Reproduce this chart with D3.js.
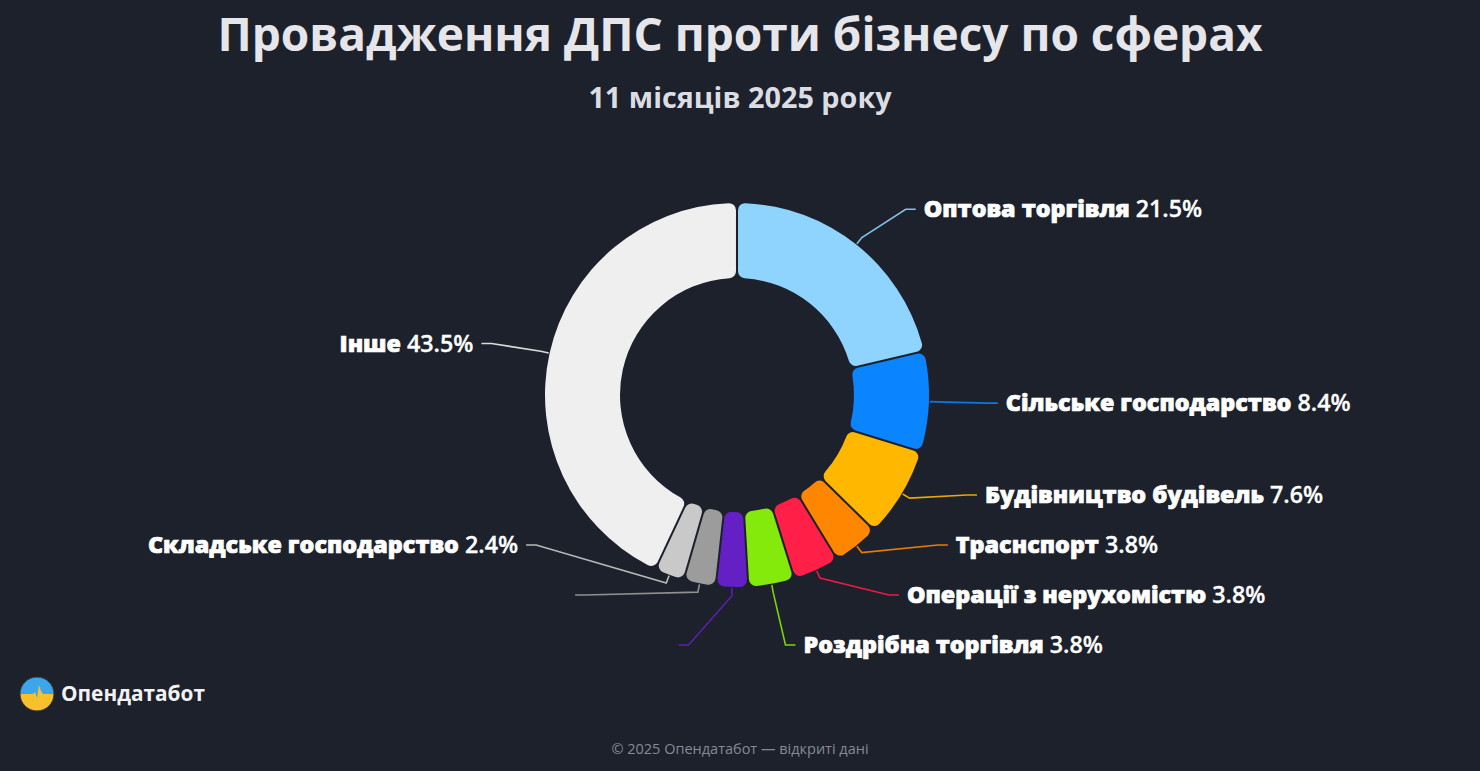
<!DOCTYPE html>
<html>
<head>
<meta charset="UTF-8" />
<script src="https://d3js.org/d3.v7.min.js"></script>
<title>Провадження ДПС проти бізнесу по сферах</title>
<style>
  html, body { margin: 0; padding: 0; background: #1d212b; }
  svg { display: block; font-family: "Open Sans", "Noto Sans", sans-serif; }
</style>
</head>
<body>
<svg id="chart"></svg>
<script>
// дані (частка проваджень, %)
const categories = [
  "Оптова торгівля",
  "Сільське господарство",
  "Будівництво будівель",
  "Траснспорт",
  "Операції з нерухомістю",
  "Роздрібна торгівля",
  "Виробництво харчових продуктів",
  "Ремонт автотранспорту",
  "Складське господарство",
  "Інше"
];
const shares = [21.5, 8.4, 7.6, 3.8, 3.8, 3.8, 2.6, 2.6, 2.4, 43.5];
const palette = ["#8fd4ff", "#0a84ff", "#ffb700", "#ff8600", "#ff1f47", "#84ea0c",
                 "#6420c4", "#9c9c9c", "#c9c9c9", "#efefef"];
const hiddenLabels = ["Виробництво харчових продуктів", "Ремонт автотранспорту"];

const W = 1480, H = 771;
const cx = 737, cy = 395;
const rOuter = 192, rInner = 117;

const svg = d3.select("#chart").attr("width", W).attr("height", H);
svg.append("rect").attr("width", W).attr("height", H).attr("fill", "#1d212b");

svg.append("text")
  .attr("x", W / 2).attr("y", 51)
  .attr("text-anchor", "middle")
  .attr("fill", "#e6e6ea")
  .attr("font-size", 46).attr("font-weight", 700)
  .text("Провадження ДПС проти бізнесу по сферах");

svg.append("text")
  .attr("x", W / 2).attr("y", 108)
  .attr("text-anchor", "middle")
  .attr("fill", "#dcdde2")
  .attr("font-size", 28.8).attr("font-weight", 700)
  .text("11 місяців 2025 року");

const data = categories.map((name, i) => ({ name, value: shares[i], color: palette[i] }));

const pie = d3.pie().sort(null).value(d => d.value).padAngle(0.009);
const arcs = pie(data);
const arc = d3.arc().innerRadius(rInner).outerRadius(rOuter).cornerRadius(7);

const g = svg.append("g").attr("transform", `translate(${cx},${cy})`);
g.selectAll("path.slice")
  .data(arcs)
  .join("path")
  .attr("class", "slice")
  .attr("d", arc)
  .attr("fill", d => d.data.color);

// розміщення підписів
const rLine = rOuter + 45;
const ax = 269, by = 258;   // еліпс, на якому стоять підписи
const gap = 50, yMax = 645 - cy, yMin = 190 - cy;

const labels = arcs.map(d => {
  const a = (d.startAngle + d.endAngle) / 2;
  return { d, a, side: Math.sin(a) >= 0 ? 1 : -1, y: -Math.cos(a) * rLine };
});

function spread(list) {
  list.sort((p, q) => p.y - q.y);
  // групи, що перетинаються, розсуваємо навколо середнього
  let groups = list.map(l => ({ items: [l], y0: l.y }));
  let merged = true;
  while (merged) {
    merged = false;
    for (let i = 0; i < groups.length - 1; i++) {
      const a = groups[i], b = groups[i + 1];
      const aEnd = a.y0 + (a.items.length - 1) * gap;
      if (b.y0 - aEnd < gap) {
        const items = a.items.concat(b.items);
        const mean = d3.mean(items, l => l.y);
        let y0 = mean - (items.length - 1) * gap / 2;
        y0 = Math.min(y0, yMax - (items.length - 1) * gap);
        y0 = Math.max(y0, yMin);
        groups.splice(i, 2, { items, y0 });
        merged = true;
        break;
      }
    }
  }
  groups.forEach(gr => {
    let y0 = Math.min(gr.y0, yMax - (gr.items.length - 1) * gap);
    gr.items.forEach((l, k) => { l.ly = y0 + k * gap; });
  });
}
spread(labels.filter(l => l.side > 0));
spread(labels.filter(l => l.side < 0));

labels.forEach(l => {
  const t = Math.min(1, (l.ly / by) ** 2);
  l.lx = l.side * ax * Math.sqrt(1 - t);
});

const lineG = g.append("g");
labels.forEach(l => {
  const s = Math.sin(l.a), c = -Math.cos(l.a);
  const pts = [
    [s * (rOuter + 1), c * (rOuter + 1)],
    [s * (rOuter + 9), c * (rOuter + 9)],
    [l.lx - l.side * 18, l.ly],
    [l.lx - l.side * 8, l.ly]
  ];
  lineG.append("path")
    .attr("d", d3.line()(pts))
    .attr("fill", "none")
    .attr("stroke", d3.color(l.d.data.color).darker(0.25))
    .attr("stroke-width", 1.6);
});

const textG = g.append("g");
labels.filter(l => !hiddenLabels.includes(l.d.data.name)).forEach(l => {
  const t = textG.append("text")
    .attr("x", l.lx).attr("y", l.ly)
    .attr("dy", "0.35em")
    .attr("text-anchor", l.side > 0 ? "start" : "end")
    .attr("fill", "#ffffff")
    .attr("font-size", 23.3);
  t.append("tspan").attr("font-weight", 800)
    .attr("stroke", "#ffffff").attr("stroke-width", 0.7)
    .text(l.d.data.name + " ");
  t.append("tspan").attr("font-weight", 600)
    .attr("stroke", "#ffffff").attr("stroke-width", 0.3)
    .text(l.d.data.value.toFixed(1) + "%");
});

// логотип
const logo = svg.append("g").attr("transform", "translate(37,694)");
const clip = svg.append("defs").append("clipPath").attr("id", "logoClip");
clip.append("circle").attr("r", 17);
const lg = logo.append("g").attr("clip-path", "url(#logoClip)");
lg.append("rect").attr("x", -17).attr("y", -17).attr("width", 34).attr("height", 34).attr("fill", "#f7c12b");
lg.append("path")
  .attr("d", "M-17,-17H17V0H6L4,-3L2,-9L0,4L-2,-2L-4,0H-17Z")
  .attr("fill", "#3ba7ea");
logo.append("circle").attr("r", 17).attr("fill", "none").attr("stroke", "#2b2f3a").attr("stroke-width", 1);
svg.append("text")
  .attr("x", 61).attr("y", 701)
  .attr("fill", "#f2f2f4")
  .attr("font-size", 20.8).attr("font-weight", 700)
  .text("Опендатабот");

svg.append("text")
  .attr("x", W / 2).attr("y", 754)
  .attr("text-anchor", "middle")
  .attr("fill", "#858a96")
  .attr("font-size", 14.5)
  .text("© 2025 Опендатабот — відкриті дані");
</script>
</body>
</html>
